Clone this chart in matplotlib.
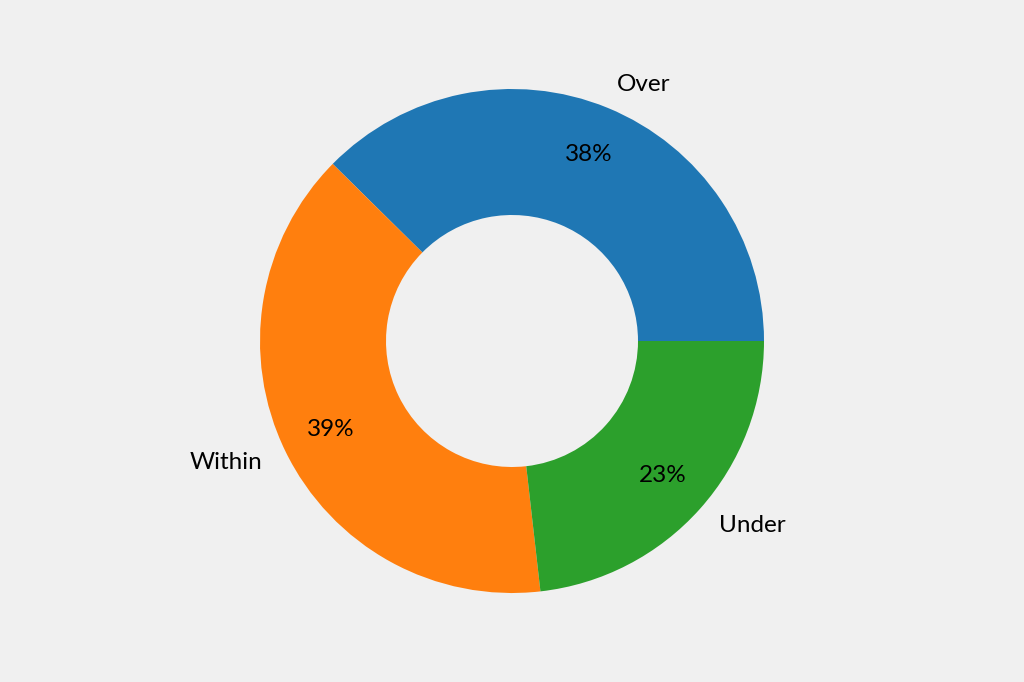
import matplotlib.pyplot as plt

plt.rcParams['font.family'] = ['Lato', 'DejaVu Sans']

labels = ["Over", "Within", "Under"]
shares = [37.6, 39.2, 23.2]
colors = ["#1f77b4", "#ff7f0e", "#2ca02c"]

fig = plt.figure(figsize=(10.24, 6.82), dpi=100, facecolor="#f0f0f0")
ax = fig.add_axes([0, 0, 1, 1])
ax.set_facecolor("#f0f0f0")

wedges, texts, autotexts = ax.pie(shares, labels=labels, colors=colors,
                                  autopct="%1.0f%%", pctdistance=0.8,
                                  labeldistance=1.1, startangle=0,
                                  wedgeprops=dict(width=0.5),
                                  textprops=dict(fontsize=17.5))

# 1 data unit = 252 px
ax.set_aspect("equal")
ax.set_xlim(-512 / 252, 512 / 252)
ax.set_ylim(-341 / 252, 341 / 252)
ax.axis("off")

fig.savefig("out.png", dpi=100, facecolor=fig.get_facecolor())
